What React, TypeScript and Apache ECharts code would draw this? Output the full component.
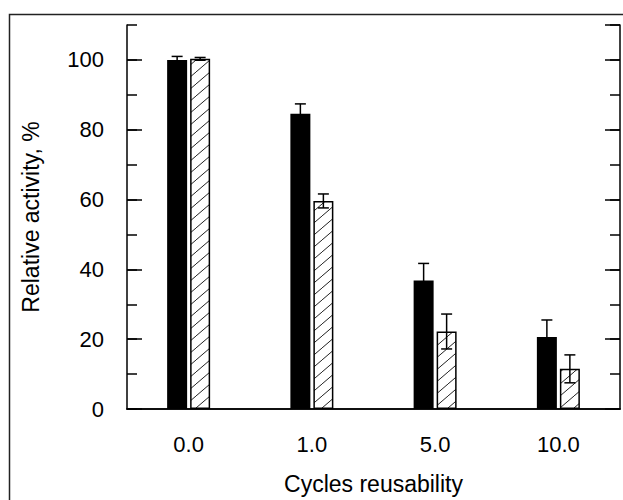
import React, { useEffect, useRef } from "react";
import * as echarts from "echarts";

const categories = ["0.0", "1.0", "5.0", "10.0"];
const solidValues = [100, 84.6, 36.8, 20.6];
const solidErrors = [1.0, 2.8, 4.9, 4.9];
const hatchedValues = [100.3, 59.6, 22.2, 11.5];
const hatchedErrors = [0.4, 2.0, 5.0, 4.0];
const yTicksMajor = 20;
const yTicksMinor = 10;
const yMax = 110;

const FONT = "'Liberation Sans', Arial, Helvetica, sans-serif";
const BAR_W = 20;
const BAR_OFFSET = 11.5;

function makeHatch() {
  const c = document.createElement("canvas");
  c.width = 14;
  c.height = 12;
  const ctx = c.getContext("2d")!;
  ctx.fillStyle = "#ffffff";
  ctx.fillRect(0, 0, 14, 12);
  ctx.strokeStyle = "#222";
  ctx.lineWidth = 1;
  ctx.beginPath();
  ctx.moveTo(-3, 12 + (12 * 3) / 14);
  ctx.lineTo(17, -(12 * 3) / 14);
  ctx.stroke();
  return c;
}

export default function App() {
  const ref = useRef<HTMLDivElement>(null);
  useEffect(() => {
    if (!ref.current) return;
    const chart = echarts.init(ref.current, undefined, { renderer: "svg" });
    const hatch = makeHatch();

    const errRender = (offset: number) => (params: any, api: any) => {
      const idx = api.value(0);
      const v = api.value(1);
      const e = api.value(2);
      const top = api.coord([idx, v + e]);
      const bot = api.coord([idx, v - e]);
      const x = top[0] + offset;
      const cap = 5.5;
      const st = { stroke: "#000", lineWidth: 1.5 };
      return {
        type: "group",
        children: [
          { type: "line", shape: { x1: x, y1: top[1], x2: x, y2: bot[1] }, style: st },
          { type: "line", shape: { x1: x - cap, y1: top[1], x2: x + cap, y2: top[1] }, style: st },
          { type: "line", shape: { x1: x - cap, y1: bot[1], x2: x + cap, y2: bot[1] }, style: st },
        ],
      };
    };

    const yBase = {
      type: "value",
      min: 0,
      max: yMax,
      splitLine: { show: false },
      axisLabel: { show: false },
    };

    chart.setOption({
      animation: false,
      backgroundColor: "#fff",
      grid: { left: 127, right: 3, top: 25, bottom: 89 },
      graphic: [
        {
          type: "rect",
          shape: { x: 9.5, y: 14.5, width: 700, height: 600 },
          style: { fill: "none", stroke: "#222", lineWidth: 1.5 },
          silent: true,
          z: -1,
        },
      ],
      xAxis: [
        {
          type: "category",
          data: categories,
          position: "bottom",
          axisLine: { lineStyle: { color: "#000", width: 1.5 } },
          axisTick: { inside: true, length: 15, lineStyle: { color: "#000", width: 1.5 } },
          axisLabel: { color: "#000", fontSize: 22, fontFamily: FONT, margin: 24 },
          name: "Cycles reusability",
          nameLocation: "middle",
          nameGap: 63,
          nameTextStyle: { color: "#000", fontSize: 23, fontFamily: FONT },
        },
        {
          type: "category",
          data: categories,
          position: "top",
          axisLine: { lineStyle: { color: "#000", width: 1.5 } },
          axisTick: { inside: true, length: 15, lineStyle: { color: "#000", width: 1.5 } },
          axisLabel: { show: false },
        },
      ],
      yAxis: [
        {
          ...yBase,
          position: "left",
          interval: yTicksMajor,
          axisLine: { show: true, lineStyle: { color: "#000", width: 1.5 } },
          axisTick: { show: true, inside: true, length: 15, lineStyle: { color: "#000", width: 1.5 } },
          axisLabel: {
            show: true,
            color: "#000",
            fontSize: 22,
            fontFamily: FONT,
            margin: 23,
            showMaxLabel: false,
          },
          name: "Relative activity, %",
          nameLocation: "middle",
          nameGap: 85,
          nameTextStyle: { color: "#000", fontSize: 23, fontFamily: FONT },
        },
        {
          ...yBase,
          position: "left",
          interval: yTicksMinor,
          axisLine: { show: false },
          axisTick: { show: true, inside: true, length: 10, lineStyle: { color: "#000", width: 1.5 } },
        },
        {
          ...yBase,
          position: "right",
          interval: yTicksMajor,
          axisLine: { show: true, lineStyle: { color: "#000", width: 1.5 } },
          axisTick: { show: true, inside: true, length: 15, lineStyle: { color: "#000", width: 1.5 } },
        },
        {
          ...yBase,
          position: "right",
          interval: yTicksMinor,
          axisLine: { show: false },
          axisTick: { show: true, inside: true, length: 10, lineStyle: { color: "#000", width: 1.5 } },
        },
      ],
      series: [
        {
          type: "bar",
          data: solidValues,
          barWidth: BAR_W,
          barGap: "15%",
          itemStyle: { color: "#000" },
        },
        {
          type: "bar",
          data: hatchedValues,
          barWidth: BAR_W,
          barGap: "15%",
          itemStyle: {
            color: { image: hatch, repeat: "repeat", imageWidth: 14, imageHeight: 12 } as any,
            borderColor: "#000",
            borderWidth: 1.5,
          },
        },
        {
          type: "custom",
          renderItem: errRender(-BAR_OFFSET),
          data: solidValues.map((v, i) => [i, v, solidErrors[i]]),
          encode: { x: 0, y: 1 },
          z: 5,
        },
        {
          type: "custom",
          renderItem: errRender(BAR_OFFSET),
          data: hatchedValues.map((v, i) => [i, v, hatchedErrors[i]]),
          encode: { x: 0, y: 1 },
          z: 5,
        },
      ],
    });
    return () => chart.dispose();
  }, []);
  return (
    <div
      ref={ref}
      style={{ position: "absolute", left: 0, top: 0, width: 623, height: 500 }}
    />
  );
}
